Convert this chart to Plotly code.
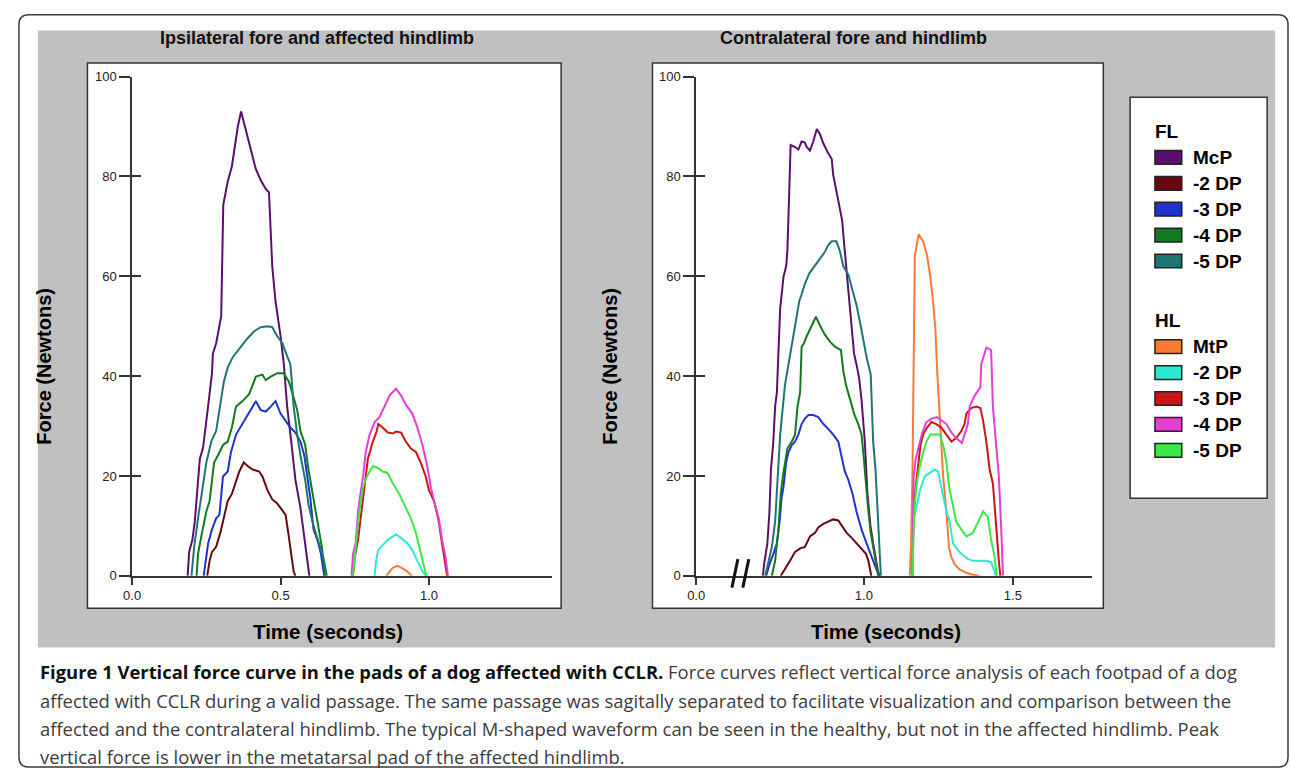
import plotly.graph_objects as go

W, H = 1290, 778


def px(x):
    return x / W


def py(y):
    return 1 - y / H


# ---------------- data ----------------
fl_names = ["McP", "-2 DP", "-3 DP", "-4 DP", "-5 DP"]
hl_names = ["MtP", "-2 DP", "-3 DP", "-4 DP", "-5 DP"]
fl_colors = ["#5b0f6c", "#6a0610", "#2233cc", "#127a1e", "#1d7672"]
hl_colors = ["#f87a36", "#2fe6d2", "#cc1418", "#e33fd3", "#3be847"]

panel_titles = ["Ipsilateral fore and affected hindlimb", "Contralateral fore and hindlimb"]
x_title = "Time (seconds)"
y_title = "Force (Newtons)"

left_xtick_vals = [0.0, 0.5, 1.0]
left_xtick_text = ["0.0", "0.5", "1.0"]
right_xtick_vals = [0.437, 1.0, 1.5]
right_xtick_text = ["0.0", "1.0", "1.5"]
y_tick_vals = [0, 20, 40, 60, 80, 100]

# Ipsilateral (left) panel - forelimb
ipsi_fl_mcp_t = [0.187, 0.192, 0.203, 0.211, 0.228, 0.239, 0.256, 0.269, 0.272, 0.283, 0.292, 0.300, 0.307, 0.314, 0.322, 0.336, 0.344, 0.356, 0.367, 0.378, 0.389, 0.406, 0.417, 0.433, 0.450, 0.461, 0.464, 0.472, 0.483, 0.500, 0.511, 0.522, 0.536, 0.550, 0.567, 0.580, 0.589, 0.597]
ipsi_fl_mcp_f = [0, 4.8, 7.2, 10.8, 23.4, 25.7, 34, 40.6, 44.5, 46.6, 49.4, 52, 74.3, 76.8, 79, 82, 85, 90, 93, 90.5, 88, 83.8, 81.4, 79.3, 77.5, 76.8, 72.6, 62, 55, 48, 42.4, 34, 26.9, 19.2, 13.6, 7.2, 3, 0]
ipsi_fl_dp2_t = [0.253, 0.261, 0.269, 0.283, 0.297, 0.311, 0.322, 0.336, 0.350, 0.361, 0.376, 0.389, 0.406, 0.428, 0.439, 0.456, 0.472, 0.487, 0.500, 0.517, 0.526, 0.536, 0.544, 0.550]
ipsi_fl_dp2_f = [0, 3, 4.8, 5.8, 8.6, 12.2, 15, 16.4, 19.2, 20.9, 22.7, 22, 21.3, 20.9, 19.9, 17.1, 15.3, 14.6, 13.6, 12.2, 8.6, 4.4, 0.9, 0]
ipsi_fl_dp3_t = [0.241, 0.256, 0.269, 0.283, 0.294, 0.306, 0.322, 0.333, 0.350, 0.367, 0.383, 0.400, 0.417, 0.433, 0.450, 0.467, 0.483, 0.500, 0.517, 0.533, 0.550, 0.567, 0.580, 0.589, 0.600, 0.611, 0.624, 0.636, 0.647]
ipsi_fl_dp3_f = [0, 6.5, 9.3, 11.5, 12.2, 19.9, 20.9, 24.8, 28.3, 30, 31.5, 33.2, 35, 33.2, 32.9, 33.9, 35, 32.5, 31.1, 29.7, 28.7, 26.9, 24.1, 19.9, 15.7, 9.3, 7.2, 4.4, 0]
ipsi_fl_dp4_t = [0.217, 0.222, 0.233, 0.250, 0.261, 0.276, 0.289, 0.306, 0.322, 0.336, 0.350, 0.372, 0.394, 0.406, 0.417, 0.439, 0.450, 0.467, 0.489, 0.511, 0.528, 0.539, 0.556, 0.567, 0.583, 0.594, 0.606, 0.617, 0.628, 0.639, 0.650]
ipsi_fl_dp4_f = [0, 4.4, 7.9, 12.9, 15, 22.7, 24.1, 26.2, 26.9, 29.7, 33.9, 35, 36.4, 38.2, 39.9, 40.3, 39.2, 39.9, 40.6, 40.6, 38.9, 36.8, 33.2, 29, 26.2, 21.3, 17.1, 12.9, 9.3, 5.8, 0]
ipsi_fl_dp5_t = [0.200, 0.209, 0.222, 0.233, 0.250, 0.267, 0.283, 0.309, 0.322, 0.339, 0.367, 0.389, 0.411, 0.433, 0.456, 0.472, 0.489, 0.506, 0.519, 0.533, 0.537, 0.544, 0.556, 0.567, 0.583, 0.594, 0.611, 0.628, 0.644, 0.656]
ipsi_fl_dp5_f = [0, 5.8, 11.5, 15.7, 22.7, 27, 29, 38.9, 41.7, 43.8, 45.9, 47.6, 49, 49.8, 50, 49.8, 48, 46.6, 44.5, 42.4, 39.6, 34, 28.3, 24.1, 19.2, 14.3, 10, 6.5, 3.7, 0]

# Ipsilateral (left) panel - affected hindlimb
ipsi_hl_mtp_t = [0.856, 0.867, 0.878, 0.894, 0.911, 0.928, 0.942]
ipsi_hl_mtp_f = [0, 0.9, 1.6, 2, 1.5, 0.8, 0]
ipsi_hl_dp2_t = [0.817, 0.822, 0.828, 0.844, 0.861, 0.889, 0.906, 0.928, 0.944, 0.961, 0.978, 0.989]
ipsi_hl_dp2_f = [0, 3, 5.1, 6.2, 7.2, 8.3, 7.6, 6.5, 5.1, 3, 0.9, 0]
ipsi_hl_dp3_t = [0.744, 0.750, 0.761, 0.772, 0.783, 0.794, 0.811, 0.824, 0.829, 0.844, 0.861, 0.878, 0.889, 0.906, 0.922, 0.939, 0.956, 0.972, 0.989, 1.000, 1.017, 1.031, 1.042, 1.053, 1.061]
ipsi_hl_dp3_f = [0, 3.7, 7.2, 12.9, 18.5, 23.4, 26.9, 29, 30.4, 29.7, 28.7, 28.5, 28.9, 28.7, 26.9, 25.5, 24.8, 22.7, 19.9, 17.1, 15, 11.5, 7.2, 3, 0]
ipsi_hl_dp4_t = [0.739, 0.744, 0.753, 0.761, 0.769, 0.778, 0.787, 0.800, 0.817, 0.833, 0.850, 0.867, 0.889, 0.906, 0.922, 0.944, 0.961, 0.978, 0.994, 1.006, 1.017, 1.033, 1.044, 1.056, 1.064]
ipsi_hl_dp4_f = [0, 4.4, 6.5, 12.9, 16.4, 19.9, 24.8, 28.3, 30.8, 31.8, 33.9, 36.1, 37.5, 36.1, 34.3, 32.5, 29.7, 26.2, 22, 17.8, 15, 11.5, 7.2, 3.7, 0]
ipsi_hl_dp5_t = [0.744, 0.750, 0.758, 0.767, 0.778, 0.791, 0.811, 0.828, 0.844, 0.861, 0.878, 0.900, 0.922, 0.939, 0.956, 0.967, 0.978, 0.991]
ipsi_hl_dp5_f = [0, 4.4, 8.6, 13.6, 17.8, 19.9, 22, 21.6, 20.9, 20.6, 18.5, 16.4, 13.6, 11.5, 8.6, 5.8, 3, 0]

# Contralateral (right) panel - forelimb
contra_fl_mcp_t = [0.661, 0.665, 0.676, 0.683, 0.688, 0.696, 0.702, 0.708, 0.713, 0.719, 0.724, 0.730, 0.739, 0.743, 0.749, 0.754, 0.769, 0.780, 0.791, 0.802, 0.808, 0.819, 0.830, 0.842, 0.853, 0.864, 0.878, 0.892, 0.897, 0.908, 0.920, 0.927, 0.934, 0.942, 0.951, 0.959, 0.967, 0.975, 0.984, 0.992, 1.003, 1.012, 1.022, 1.033, 1.042, 1.050]
contra_fl_mcp_f = [0, 2.3, 6.5, 12.9, 21.3, 26.9, 33.9, 36.8, 44.5, 53.6, 56.4, 59.9, 62, 64.9, 76.1, 86.3, 85.9, 85.4, 87, 86.8, 85.9, 85.2, 87, 89.5, 88.4, 86.6, 84.9, 83.5, 80.3, 76.8, 73.3, 71.2, 66.3, 60.6, 55, 49.4, 44.5, 42.4, 39.6, 35.3, 26.9, 16.4, 10, 5.8, 3, 0]
contra_fl_dp2_t = [0.721, 0.735, 0.752, 0.769, 0.786, 0.802, 0.819, 0.836, 0.847, 0.864, 0.881, 0.897, 0.914, 0.927, 0.942, 0.959, 0.975, 0.992, 1.007, 1.015, 1.020, 1.025]
contra_fl_dp2_f = [0, 1.3, 3, 4.8, 5.5, 5.8, 7.9, 8.6, 9.7, 10.4, 10.9, 11.3, 11.1, 10, 8.6, 7.6, 6.5, 5.5, 4.4, 3, 1.3, 0]
contra_fl_dp3_t = [0.672, 0.683, 0.696, 0.708, 0.717, 0.724, 0.730, 0.739, 0.747, 0.758, 0.769, 0.780, 0.791, 0.802, 0.814, 0.830, 0.847, 0.864, 0.881, 0.897, 0.914, 0.925, 0.936, 0.948, 0.962, 0.975, 0.992, 1.009, 1.026, 1.042, 1.054]
contra_fl_dp3_f = [0, 2.3, 4.4, 6.5, 10.8, 15.7, 17.8, 22.7, 24.8, 26.2, 26.9, 28.3, 30.4, 31.5, 32.2, 32.2, 31.8, 30.4, 29.4, 28.3, 26.9, 24.1, 20.9, 19.2, 16.4, 12.9, 9.3, 6.5, 3.7, 1.3, 0]
contra_fl_dp4_t = [0.691, 0.702, 0.713, 0.721, 0.728, 0.735, 0.743, 0.758, 0.769, 0.777, 0.786, 0.791, 0.799, 0.808, 0.819, 0.830, 0.839, 0.853, 0.869, 0.886, 0.903, 0.923, 0.931, 0.940, 0.953, 0.967, 0.981, 0.992, 1.000, 1.007, 1.015, 1.023, 1.035, 1.042, 1.048]
contra_fl_dp4_f = [0, 3, 9.3, 16.4, 19.9, 22.7, 25.5, 26.9, 28.3, 33.9, 36.8, 45.9, 46.6, 48, 49.4, 50.8, 51.9, 50.1, 48.3, 46.9, 45.9, 45.2, 41, 38.2, 35.3, 32.5, 30.4, 28.3, 23.4, 17.8, 12.9, 8.6, 4.4, 1.6, 0]
contra_fl_dp5_t = [0.669, 0.680, 0.691, 0.702, 0.708, 0.713, 0.719, 0.728, 0.735, 0.747, 0.763, 0.772, 0.783, 0.791, 0.802, 0.817, 0.830, 0.842, 0.858, 0.869, 0.881, 0.892, 0.908, 0.920, 0.931, 0.948, 0.959, 0.975, 0.987, 0.998, 1.009, 1.023, 1.026, 1.031, 1.039, 1.046, 1.051, 1.057]
contra_fl_dp5_f = [0, 3, 5.8, 10.8, 16.4, 23.4, 28.3, 33.9, 38.2, 42.4, 48, 50.8, 55, 56.4, 58.5, 60.6, 61.7, 62.8, 64.2, 64.9, 66.3, 67, 67, 64.9, 62, 60.3, 57.8, 54.3, 50.8, 47.3, 43.8, 40.3, 33.9, 26.9, 21.3, 12.9, 5.8, 0]

# Contralateral (right) panel - hindlimb
contra_hl_mtp_t = [1.154, 1.158, 1.163, 1.167, 1.171, 1.184, 1.199, 1.212, 1.223, 1.232, 1.240, 1.246, 1.252, 1.258, 1.266, 1.277, 1.286, 1.294, 1.305, 1.321, 1.344, 1.366, 1.388]
contra_hl_mtp_f = [0, 5.8, 19.9, 41, 64.2, 68.4, 67, 64.2, 59.9, 55, 49.4, 41, 33.9, 26.9, 19.9, 12.9, 5.5, 3.7, 2.3, 1.3, 0.6, 0.2, 0]
contra_hl_dp2_t = [1.160, 1.165, 1.176, 1.188, 1.204, 1.221, 1.238, 1.249, 1.257, 1.266, 1.277, 1.288, 1.299, 1.316, 1.333, 1.349, 1.366, 1.383, 1.411, 1.427, 1.439, 1.442]
contra_hl_dp2_f = [0, 10.8, 13.6, 17.1, 19.9, 20.6, 21.3, 20.9, 18.5, 15.7, 12.9, 10.8, 6.5, 5.1, 4.1, 3.4, 3, 3, 3, 2.7, 0.9, 0]
contra_hl_dp3_t = [1.163, 1.167, 1.174, 1.182, 1.190, 1.199, 1.212, 1.227, 1.243, 1.260, 1.277, 1.294, 1.310, 1.327, 1.338, 1.344, 1.360, 1.377, 1.391, 1.400, 1.411, 1.422, 1.433, 1.444, 1.453, 1.458]
contra_hl_dp3_f = [0, 12.9, 17.8, 22.7, 26.2, 28.3, 29.7, 30.8, 30.4, 29.7, 28.3, 26.9, 27.6, 29, 30.4, 32.5, 33.6, 33.9, 33.6, 31.1, 26.9, 21.3, 18.5, 9.3, 3, 0]
contra_hl_dp4_t = [1.163, 1.167, 1.174, 1.182, 1.196, 1.210, 1.227, 1.246, 1.260, 1.277, 1.294, 1.310, 1.329, 1.338, 1.349, 1.355, 1.372, 1.391, 1.394, 1.411, 1.427, 1.433, 1.444, 1.453, 1.461, 1.467]
contra_hl_dp4_f = [0, 19.9, 23.4, 25.5, 28.7, 30.8, 31.5, 31.8, 31.1, 30.4, 28.7, 27.6, 26.6, 28.3, 30.4, 33.9, 36.1, 37.8, 42.4, 45.7, 45.2, 33.9, 26.9, 19.9, 9.3, 0]
contra_hl_dp5_t = [1.163, 1.169, 1.176, 1.185, 1.196, 1.210, 1.223, 1.238, 1.254, 1.266, 1.277, 1.286, 1.297, 1.310, 1.327, 1.344, 1.366, 1.383, 1.400, 1.416, 1.427, 1.439, 1.446]
contra_hl_dp5_f = [0, 12.9, 17.8, 21.3, 24.1, 26.9, 28.3, 28.3, 28.3, 26.2, 22.7, 17.8, 14.3, 10.8, 9.3, 7.9, 8.6, 10.8, 12.9, 11.8, 7.2, 3.7, 0]

caption_bold = "Figure 1 Vertical force curve in the pads of a dog affected with CCLR."
caption_lines = [
    " Force curves reflect vertical force analysis of each footpad of a dog",
    "affected with CCLR during a valid passage. The same passage was sagitally separated to facilitate visualization and comparison between the",
    "affected and the contralateral hindlimb. The typical M-shaped waveform can be seen in the healthy, but not in the affected hindlimb. Peak",
    "vertical force is lower in the metatarsal pad of the affected hindlimb.",
]

# ---------------- assemble ----------------
panels = [
    ("x", "y", [
        ("FL", fl_names, fl_colors, [(ipsi_fl_mcp_t, ipsi_fl_mcp_f), (ipsi_fl_dp2_t, ipsi_fl_dp2_f), (ipsi_fl_dp3_t, ipsi_fl_dp3_f), (ipsi_fl_dp4_t, ipsi_fl_dp4_f), (ipsi_fl_dp5_t, ipsi_fl_dp5_f)]),
        ("HL", hl_names, hl_colors, [(ipsi_hl_mtp_t, ipsi_hl_mtp_f), (ipsi_hl_dp2_t, ipsi_hl_dp2_f), (ipsi_hl_dp3_t, ipsi_hl_dp3_f), (ipsi_hl_dp4_t, ipsi_hl_dp4_f), (ipsi_hl_dp5_t, ipsi_hl_dp5_f)]),
    ]),
    ("x2", "y2", [
        ("FL", fl_names, fl_colors, [(contra_fl_mcp_t, contra_fl_mcp_f), (contra_fl_dp2_t, contra_fl_dp2_f), (contra_fl_dp3_t, contra_fl_dp3_f), (contra_fl_dp4_t, contra_fl_dp4_f), (contra_fl_dp5_t, contra_fl_dp5_f)]),
        ("HL", hl_names, hl_colors, [(contra_hl_mtp_t, contra_hl_mtp_f), (contra_hl_dp2_t, contra_hl_dp2_f), (contra_hl_dp3_t, contra_hl_dp3_f), (contra_hl_dp4_t, contra_hl_dp4_f), (contra_hl_dp5_t, contra_hl_dp5_f)]),
    ]),
]

fig = go.Figure()
for xa, ya, groups in panels:
    for limb, names, colors, series in groups:
        for name, color, (t, f) in zip(names, colors, series):
            assert len(t) == len(f)
            fig.add_trace(go.Scatter(
                x=t, y=f, mode="lines", name=f"{limb} {name}",
                line=dict(color=color, width=2), xaxis=xa, yaxis=ya,
                showlegend=False, hoverinfo="x+y+name",
            ))
# helper empty traces for the inner half of the y ticks
fig.add_trace(go.Scatter(x=[], y=[], xaxis="x", yaxis="y3", showlegend=False))
fig.add_trace(go.Scatter(x=[], y=[], xaxis="x2", yaxis="y4", showlegend=False))

AXC = "#333333"
tickfont = dict(family="Liberation Sans, Arial, sans-serif", size=13, color="#222222")
ydom = [py(580), py(71)]


def xaxis_cfg(dom, rng, vals, text, anchor):
    return dict(domain=dom, range=rng, anchor=anchor, showline=True, linecolor=AXC, linewidth=1.5,
                ticks="outside", ticklen=7, tickwidth=1.5, tickcolor=AXC, tickvals=vals, ticktext=text,
                showgrid=False, zeroline=False, tickfont=tickfont, fixedrange=True)


def yaxis_cfg(anchor):
    return dict(domain=ydom, range=[0, 100], anchor=anchor, showline=True, linecolor=AXC, linewidth=1.5,
                ticks="outside", ticklen=11, tickwidth=1.5, tickcolor=AXC, tickvals=y_tick_vals,
                showgrid=False, zeroline=False, tickfont=tickfont, fixedrange=True)


def yinner_cfg(anchor, over):
    return dict(domain=ydom, range=[0, 100], anchor=anchor, overlaying=over, side="left", showline=False,
                ticks="inside", ticklen=9, tickwidth=1.5, tickcolor=AXC, tickvals=y_tick_vals,
                showticklabels=False, showgrid=False, zeroline=False, fixedrange=True)


shapes = []
# outer rounded frame
x0, x1, y0, y1, r = 10, 1288, 8, 775, 10
rx, ry = r / W, r / H
X0, X1, Y0, Y1 = px(x0), px(x1), py(y0), py(y1)
path = (f"M {X0+rx},{Y0} L {X1-rx},{Y0} Q {X1},{Y0} {X1},{Y0-ry} L {X1},{Y1+ry} Q {X1},{Y1} {X1-rx},{Y1} "
        f"L {X0+rx},{Y1} Q {X0},{Y1} {X0},{Y1+ry} L {X0},{Y0-ry} Q {X0},{Y0} {X0+rx},{Y0} Z")
shapes.append(dict(type="path", path=path, xref="paper", yref="paper", line=dict(color="#3a3a3a", width=1.5), layer="below"))
# grey panel
shapes.append(dict(type="rect", xref="paper", yref="paper", x0=px(29), x1=px(1275), y0=py(653), y1=py(24),
                   fillcolor="#c0c0c0", line=dict(width=0), layer="below"))
# white plot boxes
for bx0, bx1 in [(79, 556), (648, 1102)]:
    shapes.append(dict(type="rect", xref="paper", yref="paper", x0=px(bx0), x1=px(bx1), y0=py(613), y1=py(57),
                       fillcolor="white", line=dict(color="#333333", width=1.5), layer="below"))
# axis break marks on right panel
for sx0, sx1 in [(728, 734), (739, 745)]:
    shapes.append(dict(type="line", xref="paper", yref="paper", x0=px(sx0), x1=px(sx1), y0=py(592), y1=py(563),
                       line=dict(color="#111111", width=3)))
# legend box
shapes.append(dict(type="rect", xref="paper", yref="paper", x0=px(1129), x1=px(1267), y0=py(501), y1=py(92),
                   fillcolor="white", line=dict(color="#333333", width=1.5), layer="below"))

annotations = []
bold_font = "Liberation Sans, Arial, sans-serif"
for title, cx in zip(panel_titles, [310, 850]):
    annotations.append(dict(text=f"<b>{title}</b>", x=px(cx), y=py(32), xref="paper", yref="paper",
                            showarrow=False, xanchor="center", yanchor="middle",
                            font=dict(family=bold_font, size=18, color="#111111")))
for cx in [321, 883]:
    annotations.append(dict(text=f"<b>{x_title}</b>", x=px(cx), y=py(637), xref="paper", yref="paper",
                            showarrow=False, xanchor="center", yanchor="middle",
                            font=dict(family=bold_font, size=20.5, color="#000000")))
for cx in [35, 605]:
    annotations.append(dict(text=f"<b>{y_title}</b>", x=px(cx), y=py(366), xref="paper", yref="paper",
                            showarrow=False, xanchor="center", yanchor="middle", textangle=-90,
                            font=dict(family=bold_font, size=20, color="#000000")))

# legend content
legend_groups = [("FL", 127, fl_names, fl_colors), ("HL", 320, hl_names, hl_colors)]
step = 26.4
for head, hy, names, colors in legend_groups:
    annotations.append(dict(text=f"<b>{head}</b>", x=px(1152), y=py(hy), xref="paper", yref="paper",
                            showarrow=False, xanchor="left", yanchor="middle",
                            font=dict(family=bold_font, size=19, color="#000000")))
    for i, (name, color) in enumerate(zip(names, colors)):
        cy = hy + step * (i + 1)
        shapes.append(dict(type="rect", xref="paper", yref="paper", x0=px(1154), x1=px(1181),
                           y0=py(cy + 7), y1=py(cy - 7), fillcolor=color,
                           line=dict(color="#222222", width=1.5)))
        annotations.append(dict(text=f"<b>{name}</b>", x=px(1190), y=py(cy), xref="paper", yref="paper",
                                showarrow=False, xanchor="left", yanchor="middle",
                                font=dict(family=bold_font, size=19, color="#000000")))

# caption
cap_font = dict(family="Open Sans, sans-serif", size=18.4, color="#3c3c3c")
cap_y = [678, 707, 736, 764]
for i, (line, cy) in enumerate(zip(caption_lines, cap_y)):
    txt = line
    if i == 0:
        txt = f"<b><span style='color:#111111'>{caption_bold}</span></b>{line}"
    annotations.append(dict(text=txt, x=px(29), y=py(cy), xref="paper", yref="paper",
                            showarrow=False, xanchor="left", yanchor="middle", font=cap_font))

fig.update_layout(
    width=W, height=H,
    margin=dict(l=0, r=0, t=0, b=0),
    paper_bgcolor="white", plot_bgcolor="rgba(0,0,0,0)",
    xaxis=xaxis_cfg([px(124), px(547)], [0, 1.415], left_xtick_vals, left_xtick_text, "y"),
    yaxis=yaxis_cfg("x"),
    yaxis3=yinner_cfg("x", "y"),
    xaxis2=xaxis_cfg([px(692), px(1091)], [0.437, 1.767], right_xtick_vals, right_xtick_text, "y2"),
    yaxis2=yaxis_cfg("x2"),
    yaxis4=yinner_cfg("x2", "y2"),
    shapes=shapes,
    annotations=annotations,
    showlegend=False,
)

fig.write_html("out.html", config={"displayModeBar": False},
               post_script="document.body.style.margin='0px';document.body.style.overflow='hidden';")
